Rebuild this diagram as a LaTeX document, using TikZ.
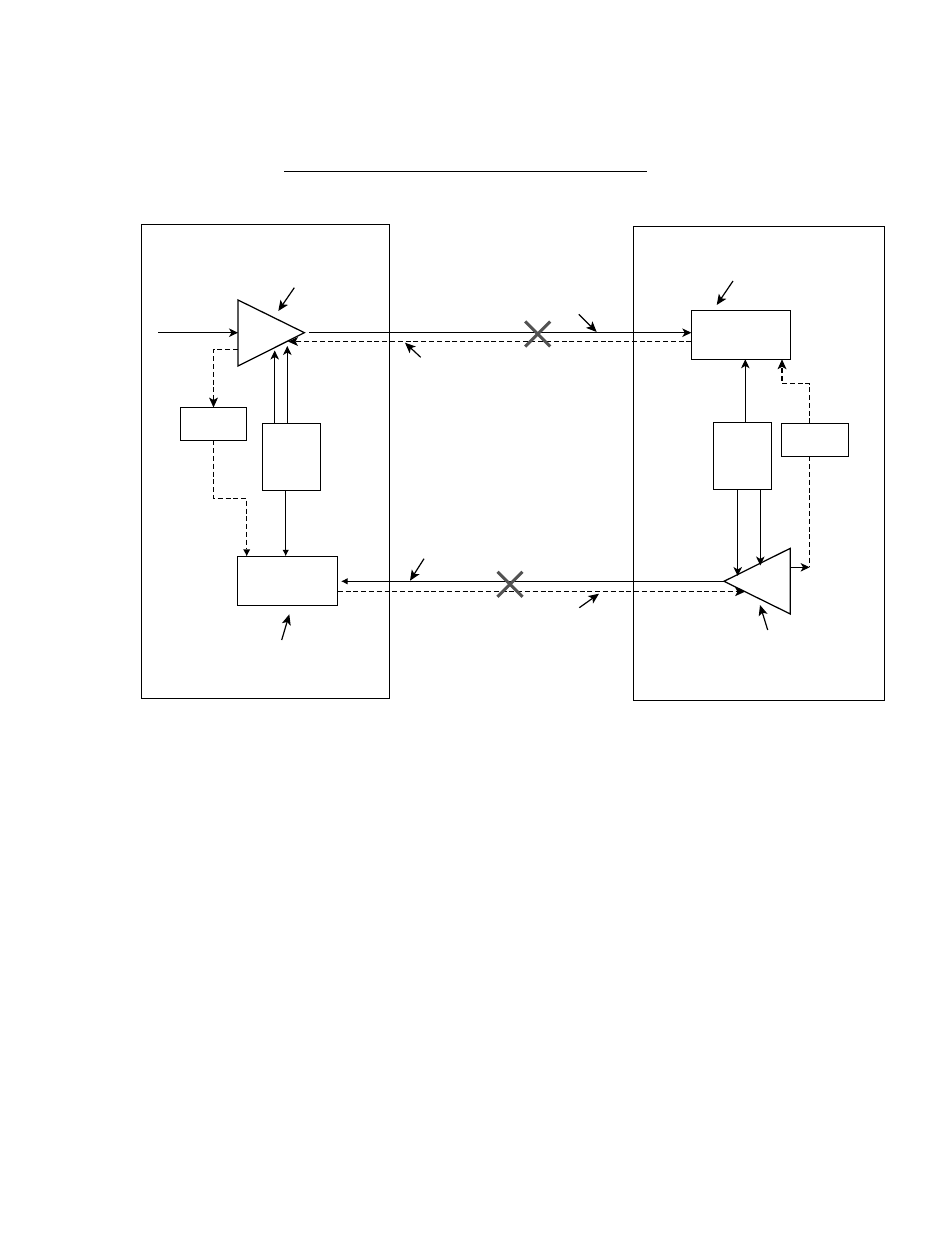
\documentclass[tikz,border=0pt]{standalone}
\usetikzlibrary{arrows.meta,calc}
\tikzset{
  ln/.style={line width=1pt,black},
  tri/.style={line width=1.25pt,black,line join=miter},
  boxnode/.style={draw=black,line width=1pt,rectangle,inner sep=0pt,outer sep=0pt},
  flow/.style={ln,-{Stealth[length=9pt,width=8.5pt,inset=2.5pt]}},
  dplain/.style={line width=1.5pt,black,dash pattern=on 5pt off 2.8pt},
  dflow/.style={dplain,-{Stealth[length=10pt,width=9pt,inset=2.5pt,line width=0pt]}},
  tipflow/.style={ln,-{Latex[length=6.5pt,width=6.5pt]}},
  dtipflow/.style={dplain,-{Latex[length=7pt,width=7pt,line width=0pt]}},
  pointer/.style={line width=1.2pt,black,-{Stealth[length=10.5pt,width=9pt,inset=2.5pt]}},
  cross/.style={line width=3pt,black!68},
}
\newcommand{\rectnode}[5]{%
  \node[boxnode,minimum width={(#4-#2)*1pt},minimum height={(#5-#3)*1pt}] (#1) at ({(#2+#4)/2},{(#3+#5)/2}) {};}
\begin{document}
\begin{tikzpicture}[x=1pt,y=-1pt]
\useasboundingbox (0,0) rectangle (950,1260);
\fill[white] (0,0) rectangle (950,1260);
% title rule
\coordinate (ruleA) at (284,171.5);
\coordinate (ruleB) at (646.5,171.5);
\draw[ln] (ruleA) -- (ruleB);
% enclosures
\rectnode{leftOuter}{141.5}{224.5}{389.5}{698}
\rectnode{rightOuter}{633.5}{226}{884.7}{700.5}
% left side boxes
\rectnode{lSmall}{180.5}{407.5}{246.7}{440.3}
\rectnode{lTall}{262.3}{423.3}{320.3}{490.3}
\rectnode{lBottom}{237.3}{556.3}{337.7}{605.3}
% right side boxes
\rectnode{rTop}{691.3}{310.3}{790.3}{359.3}
\rectnode{rTall}{713.3}{422.3}{771.3}{489.3}
\rectnode{rSmall}{781.3}{423.3}{848.3}{456.3}
% triangles
\coordinate (lA) at (238,300);
\coordinate (lB) at (238,366);
\coordinate (lC) at (304.4,332.7);
\draw[tri] (lA) -- (lC) -- (lB) -- cycle;
\coordinate (rA) at (790.3,548.3);
\coordinate (rB) at (790.3,614);
\coordinate (rC) at (724,581.3);
\draw[tri] (rA) -- (rC) -- (rB) -- cycle;
% input
\coordinate (inp) at (158,332.7);
\draw[flow] (inp) -- (lA |- inp);
% top link
\coordinate (outL) at (309,332.7);
\draw[flow] (outL) -- (rTop.west |- outL);
\coordinate (retTip) at (288,341.5);
\draw[dflow] (rTop.west |- retTip) -- (retTip);
% left dashed path
\coordinate (lT1) at (238,349.5);
\coordinate (lT2) at (213.5,349.5);
\draw[dflow] (lT1) -- (lT2) -- (lT2 |- lSmall.north);
\coordinate (lT3) at (213.5,498.5);
\coordinate (lT4) at (246.7,498.5);
\draw[dtipflow] (lT2 |- lSmall.south) -- (lT3) -- (lT4) -- (lT4 |- lBottom.north);
% left solid verticals
\coordinate (lU1) at (274.7,350.5);
\coordinate (lU2) at (287.3,346);
\draw[flow] (lU1 |- lTall.north) -- (lU1);
\draw[flow] (lU2 |- lTall.north) -- (lU2);
\coordinate (lD) at (285.7,490);
\draw[tipflow] (lD |- lTall.south) -- (lD |- lBottom.north);
% bottom link
\coordinate (botTip) at (341,581.3);
\draw[tipflow] (rC) -- (botTip);
\coordinate (dTip) at (745,591.7);
\draw[dflow] (lBottom.east |- dTip) -- (dTip);
% right verticals
\coordinate (rU) at (745.3,400);
\draw[flow] (rU |- rTall.north) -- (rU |- rTop.south);
\coordinate (rD1) at (737.7,576);
\coordinate (rD2) at (760.3,565.5);
\draw[flow] (rD1 |- rTall.south) -- (rD1);
\draw[flow] (rD2 |- rTall.south) -- (rD2);
% right dashed path
\coordinate (rP1) at (809.6,383.5);
\coordinate (rP2) at (782,383.5);
\draw[dflow] (rP1 |- rSmall.north) -- (rP1) -- (rP2) -- (rP2 |- rTop.south);
\coordinate (rP3) at (809.6,567.3);
\draw[dplain] (rP1 |- rSmall.south) -- (rP3);
\coordinate (rOut) at (790.3,567.3);
\draw[flow] (rOut) -- (rP3);
% crosses
\coordinate (xTop) at (537.7,334);
\coordinate (xBot) at (510,584.3);
\draw[cross] ($(xTop)+(-12.5,-12.5)$) -- ($(xTop)+(12.5,12.5)$);
\draw[cross] ($(xTop)+(-12.5,12.5)$) -- ($(xTop)+(12.5,-12.5)$);
\draw[cross] ($(xBot)+(-12.5,-12.5)$) -- ($(xBot)+(12.5,12.5)$);
\draw[cross] ($(xBot)+(-12.5,12.5)$) -- ($(xBot)+(12.5,-12.5)$);
% reference pointers
\coordinate (p1a) at (294.3,287.7); \coordinate (p1b) at (278.3,311);
\coordinate (p2a) at (733,281);     \coordinate (p2b) at (716.7,305);
\coordinate (p3a) at (578.7,314.3); \coordinate (p3b) at (596.7,332);
\coordinate (p4a) at (420.7,357.3); \coordinate (p4b) at (405,342.7);
\coordinate (p5a) at (424,558.7);   \coordinate (p5b) at (410,580.7);
\coordinate (p6a) at (579.3,607.7); \coordinate (p6b) at (599,593.7);
\coordinate (p7a) at (281.7,640);   \coordinate (p7b) at (289.3,614.3);
\coordinate (p8a) at (767.7,630);   \coordinate (p8b) at (760,605);
\foreach \i in {1,...,8} \draw[pointer] (p\i a) -- (p\i b);
\end{tikzpicture}
\end{document}
